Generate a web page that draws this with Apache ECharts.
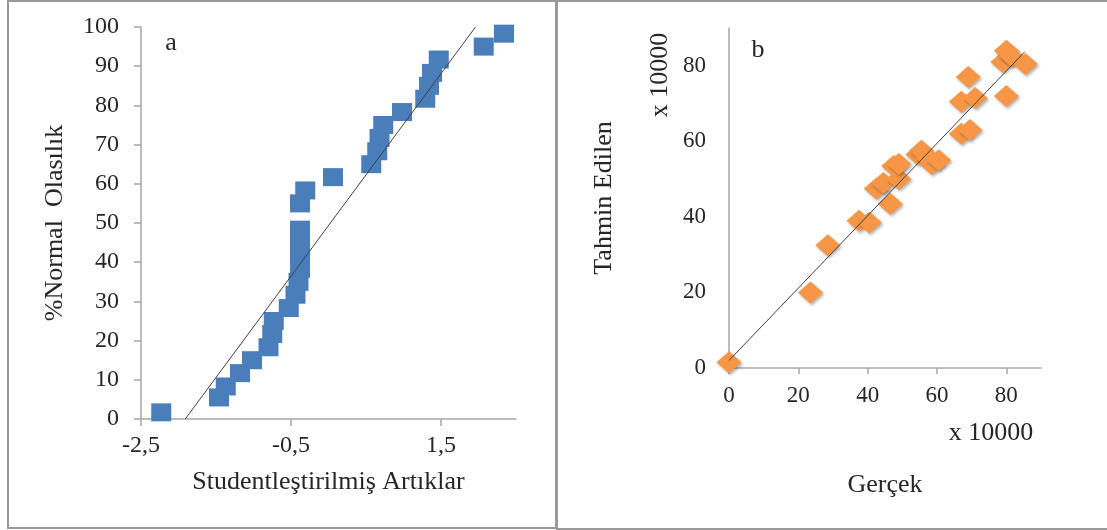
<!DOCTYPE html>
<html>
<head>
<meta charset="utf-8">
<script src="https://cdn.jsdelivr.net/npm/echarts@6.0.0/dist/echarts.min.js"></script>
<style>
  html, body { margin: 0; padding: 0; background: #fff; }
  #chart { width: 1107px; height: 530px; }
</style>
</head>
<body>
<div id="chart"></div>
<script>
// panel a: studentized residuals vs normal probability (%)
const residuals = [-2.23, -1.46, -1.37, -1.18, -1.02, -0.80, -0.75, -0.73, -0.53, -0.44,
  -0.40, -0.38, -0.38, -0.38, -0.38, -0.38, -0.31, 0.06, 0.57, 0.65,
  0.68, 0.73, 0.98, 1.29, 1.34, 1.38, 1.47, 2.07, 2.34];
const normalProb = [1.7, 5.5, 8.3, 11.7, 15, 18.3, 21.7, 25, 28.3, 31.7,
  35, 38.3, 41.7, 45, 48.3, 55, 58.3, 61.7, 65, 68.3,
  71.7, 75, 78.3, 81.7, 85, 88.3, 91.7, 95, 98.3];
const fitLineA = [[-1.91, 0], [1.96, 100]];
const xTicksA = [-2.5, -0.5, 1.5];

// panel b: actual vs predicted (x 10000)
const actual = [0, 23.5, 28.5, 37.5, 40.5, 42.5, 44.5, 46.5, 47.5, 49,
  49, 54.5, 55.5, 57.5, 58.5, 60.5, 67, 69.5, 67, 71,
  69, 80, 79, 80, 81.5, 85.5];
const predicted = [1.5, 20, 32.5, 39, 38.5, 47.5, 49, 43.5, 53.5, 50,
  54, 56.5, 57.5, 55.5, 54, 55, 62, 63, 70.5, 71.5,
  77, 72, 81, 84, 82.5, 80.5];
const fitLineB = [[0, 2], [85.3, 83.7]];
const xTicksB = [0, 20, 40, 60, 80];

var chartDom = document.getElementById('chart');
var myChart = echarts.init(chartDom);

const font = "'Liberation Serif', 'Times New Roman', serif";
const textColor = '#262626';
const axisGray = '#a6a6a6';

const axisLine = { show: true, onZero: false, lineStyle: { color: axisGray, width: 1.5 } };

var option = {
  animation: false,
  backgroundColor: '#fff',
  grid: [
    { left: 141, top: 27, width: 375, height: 392 },
    { left: 729, top: 28, width: 312, height: 340 }
  ],
  xAxis: [
    {
      gridIndex: 0,
      type: 'value',
      min: -2.5,
      max: 2.5,
      name: 'Studentleştirilmiş Artıklar',
      nameLocation: 'middle',
      nameGap: 50,
      nameTextStyle: { fontFamily: font, fontSize: 26, color: textColor },
      axisLine,
      axisTick: { show: true, length: 7, customValues: xTicksA, lineStyle: { color: axisGray, width: 1.5 } },
      axisLabel: {
        customValues: xTicksA,
        margin: 15,
        fontFamily: font, fontSize: 24, color: textColor,
        formatter: v => String(v).replace('.', ',')
      },
      splitLine: { show: false }
    },
    {
      gridIndex: 1,
      type: 'value',
      min: 0,
      max: 90,
      name: 'Gerçek',
      nameLocation: 'middle',
      nameGap: 104,
      nameTextStyle: { fontFamily: font, fontSize: 26, color: textColor },
      axisLine,
      axisTick: { show: true, length: 6, customValues: xTicksB, lineStyle: { color: axisGray, width: 1.5 } },
      axisLabel: { customValues: xTicksB, margin: 16, fontFamily: font, fontSize: 23, color: textColor },
      splitLine: { show: false }
    }
  ],
  yAxis: [
    {
      gridIndex: 0,
      type: 'value',
      min: 0,
      max: 100,
      interval: 10,
      name: '%Normal  Olasılık',
      nameLocation: 'middle',
      nameGap: 73,
      nameTextStyle: { fontFamily: font, fontSize: 26, color: textColor },
      axisLine,
      axisTick: { show: true, length: 7, lineStyle: { color: axisGray, width: 1.5 } },
      axisLabel: { margin: 22, fontFamily: font, fontSize: 24, color: textColor },
      splitLine: { show: false }
    },
    {
      gridIndex: 1,
      type: 'value',
      min: 0,
      max: 90,
      interval: 20,
      name: 'Tahmin Edilen',
      nameLocation: 'middle',
      nameGap: 112,
      nameTextStyle: { fontFamily: font, fontSize: 26, color: textColor },
      axisLine,
      axisTick: { show: false },
      axisLabel: { margin: 23, fontFamily: font, fontSize: 23, color: textColor, showMaxLabel: false },
      splitLine: { show: false }
    }
  ],
  series: [
    {
      type: 'scatter',
      xAxisIndex: 0, yAxisIndex: 0,
      symbol: 'rect',
      symbolSize: [20, 18],
      itemStyle: { color: '#4a7ebb', opacity: 1 },
      data: residuals.map((x, i) => [x, normalProb[i]]),
      z: 2
    },
    {
      type: 'line',
      xAxisIndex: 0, yAxisIndex: 0,
      showSymbol: false,
      lineStyle: { color: '#404040', width: 1 },
      data: fitLineA,
      z: 3
    },
    {
      type: 'scatter',
      xAxisIndex: 1, yAxisIndex: 1,
      symbol: 'diamond',
      symbolSize: [25, 22],
      itemStyle: {
        color: '#f79646',
        opacity: 1,
        shadowBlur: 3,
        shadowOffsetX: 1.5,
        shadowOffsetY: 2,
        shadowColor: 'rgba(0,0,0,0.3)'
      },
      data: actual.map((x, i) => [x, predicted[i]]),
      z: 2
    },
    {
      type: 'line',
      xAxisIndex: 1, yAxisIndex: 1,
      showSymbol: false,
      lineStyle: { color: '#404040', width: 1 },
      data: fitLineB,
      z: 3
    }
  ],
  graphic: [
    // panel frames
    { type: 'rect', shape: { x: 8, y: 1, width: 548, height: 527 }, style: { fill: 'none', stroke: '#999', lineWidth: 2 }, z: -1 },
    { type: 'rect', shape: { x: 557, y: 1, width: 560, height: 528 }, style: { fill: 'none', stroke: '#999', lineWidth: 2 }, z: -1 },
    // panel letters
    { type: 'text', x: 171, y: 43, style: { text: 'a', font: '26px ' + font, fill: textColor, align: 'center', verticalAlign: 'middle' } },
    { type: 'text', x: 758, y: 50, style: { text: 'b', font: '26px ' + font, fill: textColor, align: 'center', verticalAlign: 'middle' } },
    // display unit labels
    { type: 'text', x: 660, y: 75, rotation: Math.PI / 2, style: { text: 'x 10000', font: '26px ' + font, fill: textColor, align: 'center', verticalAlign: 'middle' } },
    { type: 'text', x: 991, y: 433, style: { text: 'x 10000', font: '26px ' + font, fill: textColor, align: 'center', verticalAlign: 'middle' } }
  ]
};

option && myChart.setOption(option);
</script>
</body>
</html>
